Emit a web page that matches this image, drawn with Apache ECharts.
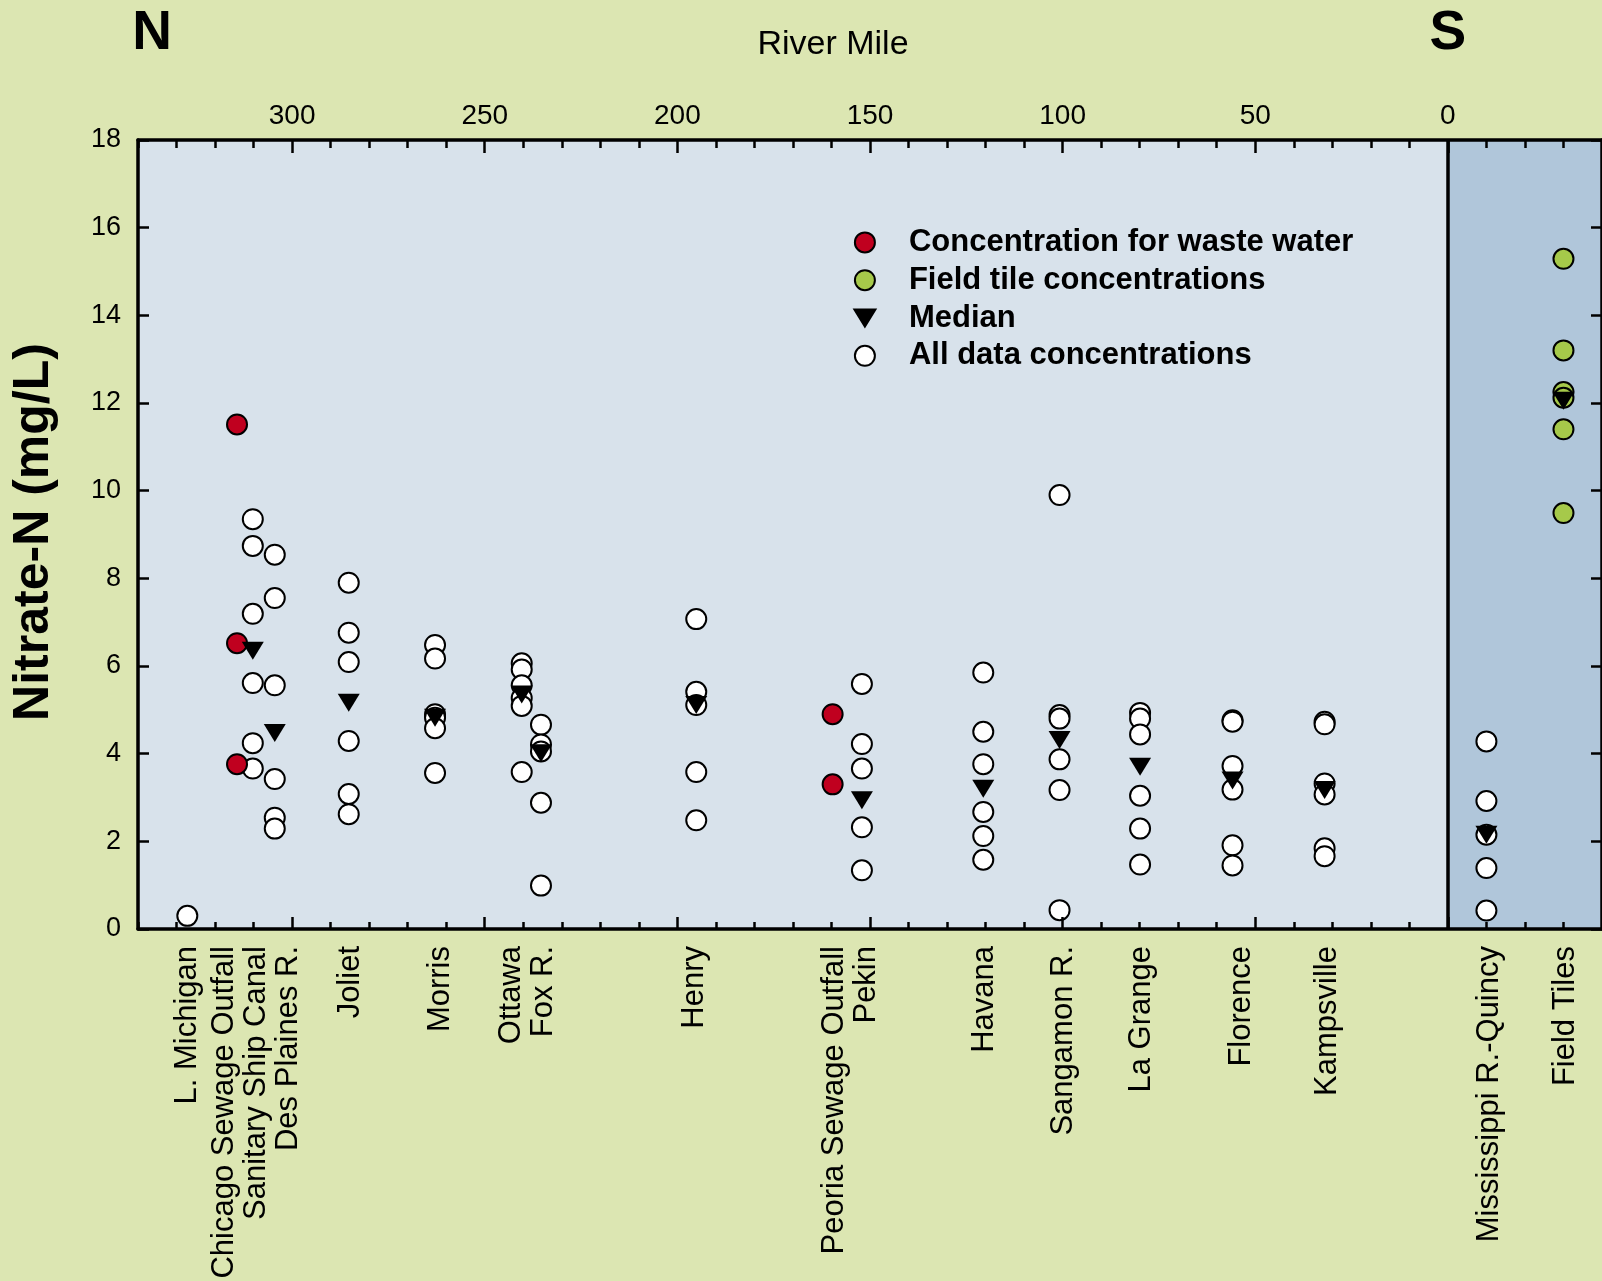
<!DOCTYPE html>
<html>
<head>
<meta charset="utf-8">
<script src="https://cdn.jsdelivr.net/npm/echarts@6/dist/echarts.min.js"></script>
<style>
  html, body { margin: 0; padding: 0; background: #dce6b2; }
  #chart { width: 1602px; height: 1281px; }
</style>
</head>
<body>
<div id="chart"></div>
<script>
const FONT = "'Liberation Sans', Arial, Helvetica, sans-serif";

// ---- Data (river mile, Nitrate-N mg/L) ----
const whiteSites = ['L. Michigan', 'Sanitary Ship Canal', 'Des Plaines R.', 'Joliet', 'Morris', 'Ottawa', 'Fox R.', 'Henry', 'Pekin', 'Havana', 'Sangamon R.', 'La Grange', 'Florence', 'Kampsville', 'Mississippi R.-Quincy'];
const whiteMiles = [327.2, 310.2, 304.5, 285.3, 262.9, 240.4, 235.4, 195.1, 152.1, 120.6, 100.8, 79.9, 55.9, 32.0, -10];
const whiteValues = [
  [0.30],
  [9.35, 8.74, 7.19, 5.61, 4.24, 3.66],
  [8.54, 7.55, 5.56, 3.42, 2.54, 2.29],
  [7.90, 6.76, 6.09, 4.29, 3.08, 2.62],
  [6.48, 6.17, 4.90, 4.82, 4.58, 3.56],
  [6.06, 5.92, 5.56, 5.27, 5.09, 3.58],
  [4.66, 4.21, 4.05, 2.88, 0.99],
  [7.07, 5.41, 5.11, 3.58, 2.48],
  [5.59, 4.22, 3.66, 2.32, 1.34],
  [5.85, 4.50, 3.76, 2.67, 2.12, 1.58],
  [9.90, 4.88, 4.80, 3.87, 3.17, 0.43],
  [4.93, 4.80, 4.44, 3.04, 2.29, 1.47],
  [4.76, 4.73, 3.72, 3.18, 1.91, 1.45],
  [4.73, 4.67, 3.32, 3.07, 1.84, 1.66],
  [4.28, 2.92, 2.15, 1.39, 0.42]
];

const wasteSites = ['Chicago Sewage Outfall', 'Peoria Sewage Outfall'];
const wasteMiles = [314.3, 159.7];
const wasteValues = [[11.51, 6.52, 3.76], [4.90, 3.30]];

const tileMile = -30;
const tileValues = [15.29, 13.20, 12.25, 12.12, 11.40, 9.49];

const medianSites = ['Sanitary Ship Canal', 'Des Plaines R.', 'Joliet', 'Morris', 'Ottawa', 'Fox R.', 'Henry', 'Pekin', 'Havana', 'Sangamon R.', 'La Grange', 'Florence', 'Kampsville', 'Mississippi R.-Quincy', 'Field Tiles'];
const medianMiles = [310.2, 304.5, 285.3, 262.9, 240.4, 235.4, 195.1, 152.1, 120.6, 100.8, 79.9, 55.9, 32.0, -10, -30];
const medianValues = [6.35, 4.47, 5.16, 4.82, 5.35, 4.01, 5.11, 2.94, 3.20, 4.31, 3.70, 3.39, 3.17, 2.15, 12.05];

// ---- Axis labels ----
const topTickLabels = [300, 250, 200, 150, 100, 50, 0];
const majorTicks = [300, 250, 200, 150, 100, 50, 0];
const siteLabelTexts = ['L. Michigan', 'Chicago Sewage Outfall\nSanitary Ship Canal\nDes Plaines R.', 'Joliet', 'Morris', 'Ottawa\nFox R.', 'Henry', 'Peoria Sewage Outfall\nPekin', 'Havana', 'Sangamon R.', 'La Grange', 'Florence', 'Kampsville', 'Mississippi R.-Quincy', 'Field Tiles'];
const siteLabelMiles = [327.2, 309.2, 284.9, 261.6, 239.0, 195.6, 155.1, 120.2, 99.8, 79.5, 53.7, 31.3, -10.8, -30.5];

// ---- Build series data ----
const whitePts = [];
whiteMiles.forEach((m, i) => whiteValues[i].forEach(v => whitePts.push([m, v])));
const wastePts = [];
wasteMiles.forEach((m, i) => wasteValues[i].forEach(v => wastePts.push([m, v])));
const tilePts = tileValues.map(v => [tileMile, v]);
const medianPts = medianMiles.map((m, i) => [m, medianValues[i]]);

const lineStyle = { color: '#000', width: 3.5 };
const tri = 'path://M0,0L21,0L10.5,17Z';
const legendTri = 'path://M0,0M0,1.5L21,1.5L10.5,18.5ZM21,20';

function xAx(position, tickLen, major, labels) {
  const ax = {
    type: 'value', position: position, inverse: true, min: -40, max: 340, interval: 10,
    axisLine: { show: !major, onZero: false, lineStyle: lineStyle },
    axisTick: { show: true, inside: true, length: tickLen, lineStyle: { color: '#000', width: 2.5 } },
    axisLabel: { show: false },
    splitLine: { show: false },
    z: 10
  };
  if (major) ax.axisTick.customValues = majorTicks;
  if (labels) {
    ax.axisLabel = {
      show: true, margin: 10, fontSize: 28, color: '#000', fontFamily: FONT,
      customValues: topTickLabels,
      formatter: v => (topTickLabels.indexOf(v) >= 0 ? String(v) : '')
    };
  }
  return ax;
}

function yAx(position, labels) {
  return {
    type: 'value', position: position, min: 0, max: 18, interval: 2,
    axisLine: { show: true, onZero: false, lineStyle: lineStyle },
    axisTick: { show: true, inside: true, length: 11, lineStyle: { color: '#000', width: 2.5 } },
    axisLabel: labels ? { show: true, margin: 17, fontSize: 27, color: '#000', fontFamily: FONT } : { show: false },
    splitLine: { show: false }, z: 10
  };
}

const chart = echarts.init(document.getElementById('chart'), null, { renderer: 'canvas' });

const option = {
  backgroundColor: '#dce6b2',
  animation: false,
  grid: { left: 138, top: 140, right: 0, bottom: 352, show: true, backgroundColor: '#d8e2eb', borderWidth: 0 },
  xAxis: [
    xAx('top', 8, false, true),
    xAx('top', 13, true, false),
    xAx('bottom', 7, false, false),
    xAx('bottom', 12, true, false)
  ],
  yAxis: [yAx('left', true), yAx('right', false)],
  legend: {
    orient: 'vertical', left: 853.4, top: 226.4, padding: 0,
    itemWidth: 78, itemHeight: 20, itemGap: 5.8,
    selectedMode: false,
    textStyle: { fontSize: 31, fontWeight: 'bold', fontFamily: FONT, color: '#000', lineHeight: 32 },
    itemStyle: { borderColor: '#000', borderWidth: 2 },
    data: ['Concentration for waste water', 'Field tile concentrations', { name: 'Median', icon: legendTri }, 'All data concentrations']
  },
  series: [
    {
      type: 'scatter', name: 'regions', data: [], z: 1, silent: true,
      markArea: { silent: true, itemStyle: { color: '#b0c6da' }, data: [[{ xAxis: 0 }, { xAxis: -40 }]] },
      markLine: { silent: true, symbol: 'none', label: { show: false }, lineStyle: { color: '#000', width: 3.5, type: 'solid' }, data: [{ xAxis: 0 }] }
    },
    {
      type: 'scatter', name: 'All data concentrations', data: whitePts, z: 3,
      symbol: 'circle', symbolSize: 20,
      itemStyle: { color: '#ffffff', borderColor: '#000', borderWidth: 2, opacity: 1 }
    },
    {
      type: 'scatter', name: 'Concentration for waste water', data: wastePts, z: 4,
      symbol: 'circle', symbolSize: 20,
      itemStyle: { color: '#c0001f', borderColor: '#000', borderWidth: 2, opacity: 1 }
    },
    {
      type: 'scatter', name: 'Field tile concentrations', data: tilePts, z: 4,
      symbol: 'circle', symbolSize: 20,
      itemStyle: { color: '#a6c94a', borderColor: '#000', borderWidth: 2, opacity: 1 }
    },
    {
      type: 'scatter', name: 'Median', data: medianPts, z: 5,
      symbol: tri, symbolSize: [22, 18],
      itemStyle: { color: '#000', borderWidth: 0, opacity: 1 }
    }
  ]
};

chart.setOption(option);

const y0 = chart.convertToPixel({ yAxisIndex: 0 }, 0);
const graphics = [
  { type: 'text', x: 152, y: 34, style: { text: 'N', fontSize: 55, fontWeight: 'bold', fontFamily: FONT, fill: '#000', align: 'center', verticalAlign: 'middle' } },
  { type: 'text', x: chart.convertToPixel({ xAxisIndex: 0 }, 0), y: 34, style: { text: 'S', fontSize: 55, fontWeight: 'bold', fontFamily: FONT, fill: '#000', align: 'center', verticalAlign: 'middle' } },
  { type: 'text', x: 833, y: 45, style: { text: 'River Mile', fontSize: 34, fontFamily: FONT, fill: '#000', align: 'center', verticalAlign: 'middle' } },
  { type: 'text', x: 34, y: 532, rotation: Math.PI / 2, style: { text: 'Nitrate-N (mg/L)', fontSize: 50, fontWeight: 'bold', fontFamily: FONT, fill: '#000', align: 'center', verticalAlign: 'middle' } }
];
siteLabelTexts.forEach((t, i) => {
  graphics.push({
    type: 'text',
    x: chart.convertToPixel({ xAxisIndex: 0 }, siteLabelMiles[i]),
    y: y0 + 17,
    rotation: Math.PI / 2,
    style: { text: t, fontSize: 31, lineHeight: 32, fontFamily: FONT, fill: '#000', align: 'right', verticalAlign: 'middle' }
  });
});
chart.setOption({ graphic: graphics });
</script>
</body>
</html>
